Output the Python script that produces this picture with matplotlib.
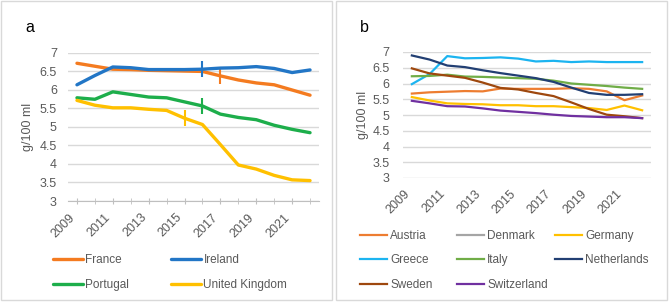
import numpy as np
import matplotlib
matplotlib.use("Agg")
import matplotlib.pyplot as plt
from matplotlib.patches import Rectangle

plt.rcParams['font.family'] = ['Liberation Sans', 'DejaVu Sans']

years = list(range(2009, 2023))
tick_years = [2009, 2011, 2013, 2015, 2017, 2019, 2021]
y_ticks = [3, 3.5, 4, 4.5, 5, 5.5, 6, 6.5, 7]
y_tick_labels = ["3", "3.5", "4", "4.5", "5", "5.5", "6", "6.5", "7"]

# Panel a
a_countries = ["France", "Ireland", "Portugal", "United Kingdom"]
france = [6.71, 6.63, 6.55, 6.54, 6.52, 6.51, 6.50, 6.49, 6.37, 6.26, 6.18, 6.13, 5.99, 5.85]
ireland = [6.13, 6.38, 6.61, 6.59, 6.54, 6.54, 6.54, 6.55, 6.58, 6.59, 6.62, 6.57, 6.46, 6.53]
portugal = [5.78, 5.74, 5.94, 5.87, 5.80, 5.78, 5.67, 5.56, 5.34, 5.25, 5.19, 5.04, 4.93, 4.84]
uk = [5.71, 5.58, 5.51, 5.51, 5.47, 5.44, 5.23, 5.06, 4.52, 3.97, 3.86, 3.69, 3.57, 3.55]
a_values = [france, ireland, portugal, uk]
a_colors = ["#F47B20", "#2276C6", "#1DAE4B", "#FFC000"]
tax_years = [2017, 2016, 2016, 2015]  # vertical markers

# Panel b
b_countries = ["Austria", "Denmark", "Germany", "Greece", "Italy", "Netherlands", "Sweden", "Switzerland"]
austria = [5.68, 5.72, 5.74, 5.76, 5.75, 5.84, 5.83, 5.83, 5.83, 5.85, 5.83, 5.75, 5.47, 5.62]
denmark = [np.nan] * 14
germany = [5.57, 5.46, 5.37, 5.35, 5.34, 5.31, 5.31, 5.28, 5.28, 5.25, 5.22, 5.16, 5.30, 5.15]
greece = [5.98, 6.30, 6.87, 6.80, 6.81, 6.83, 6.79, 6.70, 6.72, 6.68, 6.70, 6.68, 6.68, 6.68]
italy = [6.23, 6.24, 6.28, 6.22, 6.21, 6.19, 6.17, 6.15, 6.09, 6.00, 5.96, 5.92, 5.87, 5.83]
netherlands = [6.89, 6.76, 6.57, 6.52, 6.42, 6.33, 6.25, 6.17, 6.05, 5.87, 5.70, 5.64, 5.64, 5.66]
sweden = [6.48, 6.32, 6.25, 6.18, 6.03, 5.86, 5.81, 5.70, 5.60, 5.40, 5.19, 5.01, 4.96, 4.90]
switzerland = [5.45, 5.37, 5.28, 5.27, 5.21, 5.14, 5.10, 5.06, 5.01, 4.97, 4.95, 4.93, 4.93, 4.90]
b_values = [austria, denmark, germany, greece, italy, netherlands, sweden, switzerland]
b_colors = ["#ED7D31", "#A5A5A5", "#FFC000", "#1CB4F0", "#70AD47", "#223F73", "#9E480E", "#7030A0"]

W, H = 669, 302
fig = plt.figure(figsize=(W / 100, H / 100), dpi=100)

def fx(px):
    return px / W

def fy(py):
    return 1 - py / H

# panel borders
for x0, x1 in [(1, 332), (336, 667)]:
    fig.patches.append(Rectangle((fx(x0), fy(300)), fx(x1) - fx(x0), fy(1) - fy(300),
                                 transform=fig.transFigure, fill=False,
                                 edgecolor="#D9D9D9", linewidth=1))

grey = "#595959"
grid_c = "#D9D9D9"

def style(ax, ticks_on, ypad):
    ax.set_xlim(2008.5, 2022.5)
    ax.set_ylim(3, 7)
    ax.set_yticks(y_ticks)
    ax.set_yticklabels(y_tick_labels)
    ax.set_xticks(tick_years)
    ax.set_xticklabels([str(t) for t in tick_years], rotation=45, ha="right")
    ax.grid(axis="y", color=grid_c, linewidth=1)
    ax.set_axisbelow(True)
    for s in ["top", "right", "left"]:
        ax.spines[s].set_visible(False)
    ax.tick_params(axis="y", length=0, pad=ypad, labelsize=9, labelcolor=grey)
    if ticks_on:
        ax.spines["bottom"].set_color("#BFBFBF")
        ax.set_xticks(years, minor=True)
        ax.tick_params(axis="x", which="both", length=5, direction="inout",
                       color="#BFBFBF", pad=5, labelsize=9, labelcolor=grey)
    else:
        ax.spines["bottom"].set_visible(False)
        ax.tick_params(axis="x", length=0, pad=7, labelsize=9, labelcolor=grey)

def column_legends(handles, labels, ncol, xs, top, fontsize, hl, ls):
    for c in range(ncol):
        hs = handles[c::ncol]
        lb = labels[c::ncol]
        leg = fig.legend(hs, lb, loc="upper left", bbox_to_anchor=(fx(xs[c]), fy(top)),
                         bbox_transform=fig.transFigure, ncol=1, frameon=False,
                         fontsize=fontsize, handlelength=hl, handletextpad=0.25,
                         labelspacing=ls, borderpad=0, borderaxespad=0)
        for t in leg.get_texts():
            t.set_color(grey)

# Panel a
axa = fig.add_axes([fx(68), fy(201), fx(319) - fx(68), fy(52.5) - fy(201)])
style(axa, True, 8)
ha_list = []
for name, vals, c, ty in zip(a_countries, a_values, a_colors, tax_years):
    ln, = axa.plot(years, vals, color=c, linewidth=2.4, label=name, solid_capstyle="round")
    ha_list.append(ln)
    i = years.index(ty)
    axa.plot([ty], [vals[i]], marker="|", markersize=12, markeredgewidth=1.5, color=c,
             linestyle="none")
column_legends(ha_list, a_countries, 2, [53, 171], 254, 8.5, 2.5, 1.1)

fig.text(fx(30), fy(28), "a", fontsize=11.5, ha="center", va="center", color="black")
fig.text(fx(28), fy(127), "g/100 ml", rotation=90, fontsize=9, ha="center",
         va="center", color=grey)

# Panel b
axb = fig.add_axes([fx(403), fy(178), fx(651) - fx(403), fy(52) - fy(178)])
style(axb, False, 9.5)
hb_list = []
for name, vals, c in zip(b_countries, b_values, b_colors):
    ln, = axb.plot(years, vals, color=c, linewidth=1.6, label=name)
    hb_list.append(ln)
column_legends(hb_list, b_countries, 3, [360, 457, 555], 230, 8.5, 2.3, 1.05)

fig.text(fx(364), fy(28), "b", fontsize=11.5, ha="center", va="center", color="black")
fig.text(fx(363), fy(115), "g/100 ml", rotation=90, fontsize=9, ha="center",
         va="center", color=grey)

fig.savefig("out.png", dpi=100)
